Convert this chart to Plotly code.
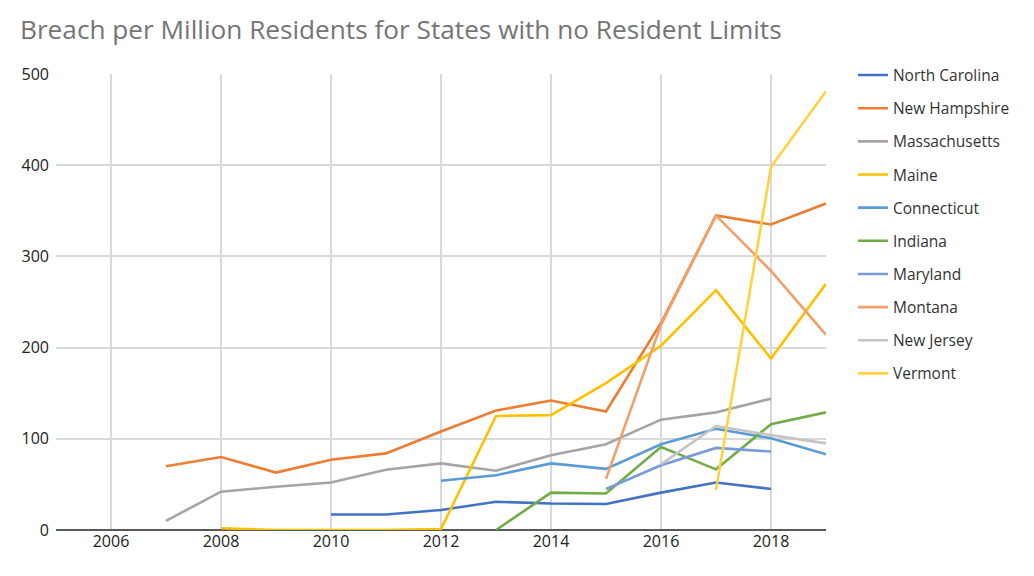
import plotly.graph_objects as go

years = list(range(2007, 2020))

states = ["North Carolina", "New Hampshire", "Massachusetts", "Maine", "Connecticut",
          "Indiana", "Maryland", "Montana", "New Jersey", "Vermont"]
colors = ["#4472C4", "#ED7D31", "#A5A5A5", "#FFC000", "#5B9BD5",
          "#70AD47", "#7A9BD9", "#F1A06A", "#C4C4C4", "#FFD23F"]

# values per year 2007..2019 (None = no data)
north_carolina = [None, None, None, 17, 17, 22, 31, 29, 28.5, 41, 52, 45, None]
new_hampshire  = [70, 80, 63, 77, 84, 108, 131, 142, 130, 227, 345, 335, 358]
massachusetts  = [10, 42, 47.5, 52, 66, 73, 65, 82, 94, 121, 129, 144, None]
maine          = [None, 2, 0, 0, 0, 1, 125, 126, 161, 202, 263, 188, 270]
connecticut    = [None, None, None, None, None, 54, 60, 73, 67, 94, 111, 100.5, 83]
indiana        = [None, None, None, None, None, None, 0, 41, 40, 91, 66.5, 116, 129]
maryland       = [None, None, None, None, None, None, None, None, 45, 71, 90, 86, None]
montana        = [None, None, None, None, None, None, None, None, 56, 225, 345, 284, 214]
new_jersey     = [None, None, None, None, None, None, None, None, None, 72, 114, 104, 95]
vermont        = [None, None, None, None, None, None, None, None, None, None, 44, 398, 481]

series = [north_carolina, new_hampshire, massachusetts, maine, connecticut,
          indiana, maryland, montana, new_jersey, vermont]

x_ticks = [2006, 2008, 2010, 2012, 2014, 2016, 2018]
y_ticks = [0, 100, 200, 300, 400, 500]

fig = go.Figure()
for name, vals, col in zip(states, series, colors):
    fig.add_trace(go.Scatter(
        x=years, y=vals, mode="lines", name=name,
        line=dict(color=col, width=2.6),
        connectgaps=False, legendgroup=name,
    ))

font_family = "Open Sans, Noto Sans, sans-serif"

fig.update_layout(
    width=1034, height=576,
    paper_bgcolor="white", plot_bgcolor="white",
    margin=dict(l=56, r=208, t=74, b=46),
    title=dict(text="Breach per Million Residents for States with no Resident Limits",
               x=20 / 1034, xref="container", xanchor="left",
               y=1 - 30 / 576, yref="container", yanchor="middle",
               font=dict(family=font_family, size=26.2, color="#757575")),
    font=dict(family=font_family, size=16, color="#222222"),
    legend=dict(x=1.035, y=1.034, xanchor="left", yanchor="top",
                font=dict(family=font_family, size=15.5, color="#333333"),
                tracegroupgap=10, itemwidth=30, maxheight=560,
                bgcolor="rgba(0,0,0,0)"),
    showlegend=True,
)

fig.update_xaxes(range=[2005, 2019], tickvals=x_ticks, ticktext=[str(t) for t in x_ticks],
                 showgrid=True, gridcolor="#D9D9D9", gridwidth=1.5,
                 zeroline=False, showline=False, ticks="",
                 tickfont=dict(size=16, color="#222222"))
fig.update_yaxes(range=[0, 500], tickvals=y_ticks,
                 showgrid=True, gridcolor="#D9D9D9", gridwidth=1.5,
                 zeroline=True, zerolinecolor="#595959", zerolinewidth=1.5,
                 showline=False, ticks="", ticklabelstandoff=6,
                 tickfont=dict(size=16, color="#222222"))

fig.write_html("out.html")
